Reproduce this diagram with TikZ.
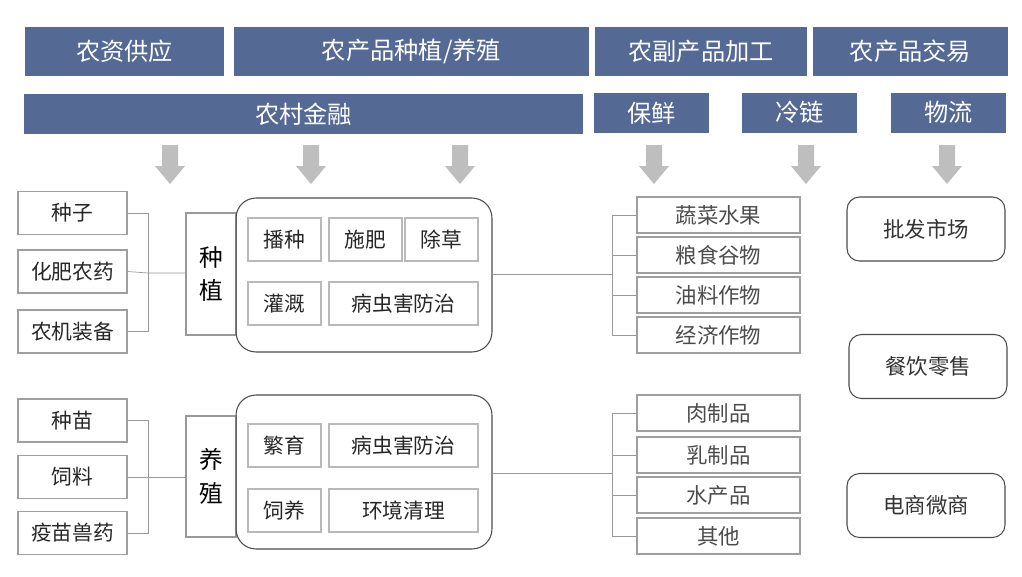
\documentclass[tikz,border=0pt]{standalone}
\usepackage{fontspec}
\setmainfont{Noto Sans CJK SC}
\usepackage{tikz}
\usetikzlibrary{positioning}

\definecolor{hdrblue}{RGB}{84,105,148}
\definecolor{arrowgray}{RGB}{190,190,190}

\begin{document}
\begin{tikzpicture}[x=0.02cm,y=-0.02cm,semithick,
            font=\fontsize{11.8}{13}\selectfont]
        \tikzstyle{hdr}=[fill=hdrblue,text=white,inner sep=0pt,minimum height=0.98cm,font=\fontsize{13.8}{15}\selectfont]
        \tikzstyle{sub}=[hdr,minimum height=0.8cm]
        \tikzstyle{input}=[draw=gray!75,inner sep=0pt,minimum width=2.18cm,minimum height=0.86cm,text=black!85]
        \tikzstyle{vbox}=[draw=gray!80,inner sep=0pt,minimum width=1cm,align=center,font=\fontsize{13.5}{19}\selectfont]
        \tikzstyle{group}=[draw=black!70,rounded corners=0.4cm,minimum width=5.12cm,minimum height=3.08cm,inner sep=0pt]
        \tikzstyle{task}=[draw=gray!55,inner sep=0pt,minimum width=1.46cm,minimum height=0.86cm,text=black!85]
        \tikzstyle{prod}=[draw=gray!75,inner sep=0pt,minimum width=3.26cm,minimum height=0.72cm,text=black!70,font=\fontsize{12.2}{13}\selectfont]
        \tikzstyle{trade}=[draw=black!70,rounded corners=0.25cm,inner sep=0pt,minimum width=3.16cm,minimum height=1.28cm,text=black!80,font=\fontsize{12.2}{13}\selectfont]
        \tikzstyle{link}=[draw=gray!80,thin]

        \useasboundingbox (0,0) rectangle (1022,576);

        % header rows
        \node[hdr,minimum width=3.98cm] (zygy) at (124.5,51.5) {农资供应};
        \node[hdr,minimum width=7.1cm] (zzyz) at (411.5,51) {农产品种植/养殖};
        \node[hdr,minimum width=4.24cm] (jg) at (701,51) {农副产品加工};
        \node[hdr,minimum width=3.9cm] (jy) at (910.5,51.5) {农产品交易};
        \node[sub,minimum width=11.18cm] (jr) at (303.5,114) {农村金融};
        \node[sub,minimum width=2.3cm] (bx) at (651.5,113) {保鲜};
        \node[sub,minimum width=2.3cm] (ll) at (799.5,112.5) {冷链};
        \node[sub,minimum width=2.3cm] (wl) at (948.5,112.5) {物流};

        \foreach \x in {170,311,460,654,806,947}
            \fill[arrowgray] (\x-8,145) -- (\x+8,145) -- (\x+8,166) -- (\x+15,166)
                -- (\x,184) -- (\x-15,166) -- (\x-8,166) -- cycle;

        % planting
        \node[input] (zz) at (72.5,213) {种子};
        \node[input] (hf) at (72.5,271.5) {化肥农药};
        \node[input] (nj) at (72.5,331.5) {农机装备};
        \node[vbox,minimum height=2.44cm] (zhi) at (211,274) {种\\植};
        \node[group] (zhig) at (364,275) {};
        \node[task] (bz) at (284.5,239.5) {播种};
        \node[task] (sf) at (365.5,239.5) {施肥};
        \node[task] (cc) at (441.5,239.5) {除草};
        \node[task] (gg) at (284.5,303.5) {灌溉};
        \node[task,minimum width=2.98cm] (fz1) at (403.5,303.5) {病虫害防治};
        \node[prod] (sc) at (718.5,215) {蔬菜水果};
        \node[prod] (ls) at (718.5,255) {粮食谷物};
        \node[prod] (yl) at (718.5,295) {油料作物};
        \node[prod] (jj) at (718.5,335) {经济作物};

        % breeding
        \node[input] (zm) at (72.5,420.5) {种苗};
        \node[input] (sl) at (72.5,477) {饲料};
        \node[input] (ym) at (72.5,533) {疫苗兽药};
        \node[vbox,minimum height=2.42cm] (yang) at (211,476.5) {养\\殖};
        \node[group] (yangg) at (364,472) {};
        \node[task] (fy) at (284.5,445.5) {繁育};
        \node[task,minimum width=2.98cm] (fz2) at (403.5,445.5) {病虫害防治};
        \node[task] (sy) at (284.5,510.5) {饲养};
        \node[task,minimum width=2.98cm] (hj) at (403.5,510.5) {环境清理};
        \node[prod] (rz) at (718.5,413) {肉制品};
        \node[prod] (rp) at (718.5,455) {乳制品};
        \node[prod] (sc2) at (718.5,495) {水产品};
        \node[prod] (qt) at (718.5,536) {其他};

        % trade
        \node[trade] (pf) at (926,229) {批发市场};
        \node[trade] (cy) at (928,366.5) {餐饮零售};
        \node[trade] (ds) at (926,505.5) {电商微商};

        % connectors
        \coordinate (lb1) at (148,273);
        \coordinate (rb1) at (612,274);
        \coordinate (lb2) at (148,477);
        \coordinate (rb2) at (612,473);

        \draw[link] (zz.east) -| (lb1);
        \draw[link] (nj.east) -| (lb1);
        \draw[link] (hf.east) -- (lb1) -- (lb1 -| zhi.west);
        \draw[link] (zhig.east |- rb1) -- (rb1);
        \foreach \n in {sc,ls,yl,jj}
            \draw[link] (\n.west) -| (rb1);

        \draw[link] (zm.east) -| (lb2);
        \draw[link] (ym.east) -| (lb2);
        \draw[link] (sl.east) -- (lb2) -- (lb2 -| yang.west);
        \draw[link] (yangg.east |- rb2) -- (rb2);
        \foreach \n in {rz,rp,sc2,qt}
            \draw[link] (\n.west) -| (rb2);

        \end{tikzpicture}
\end{document}
